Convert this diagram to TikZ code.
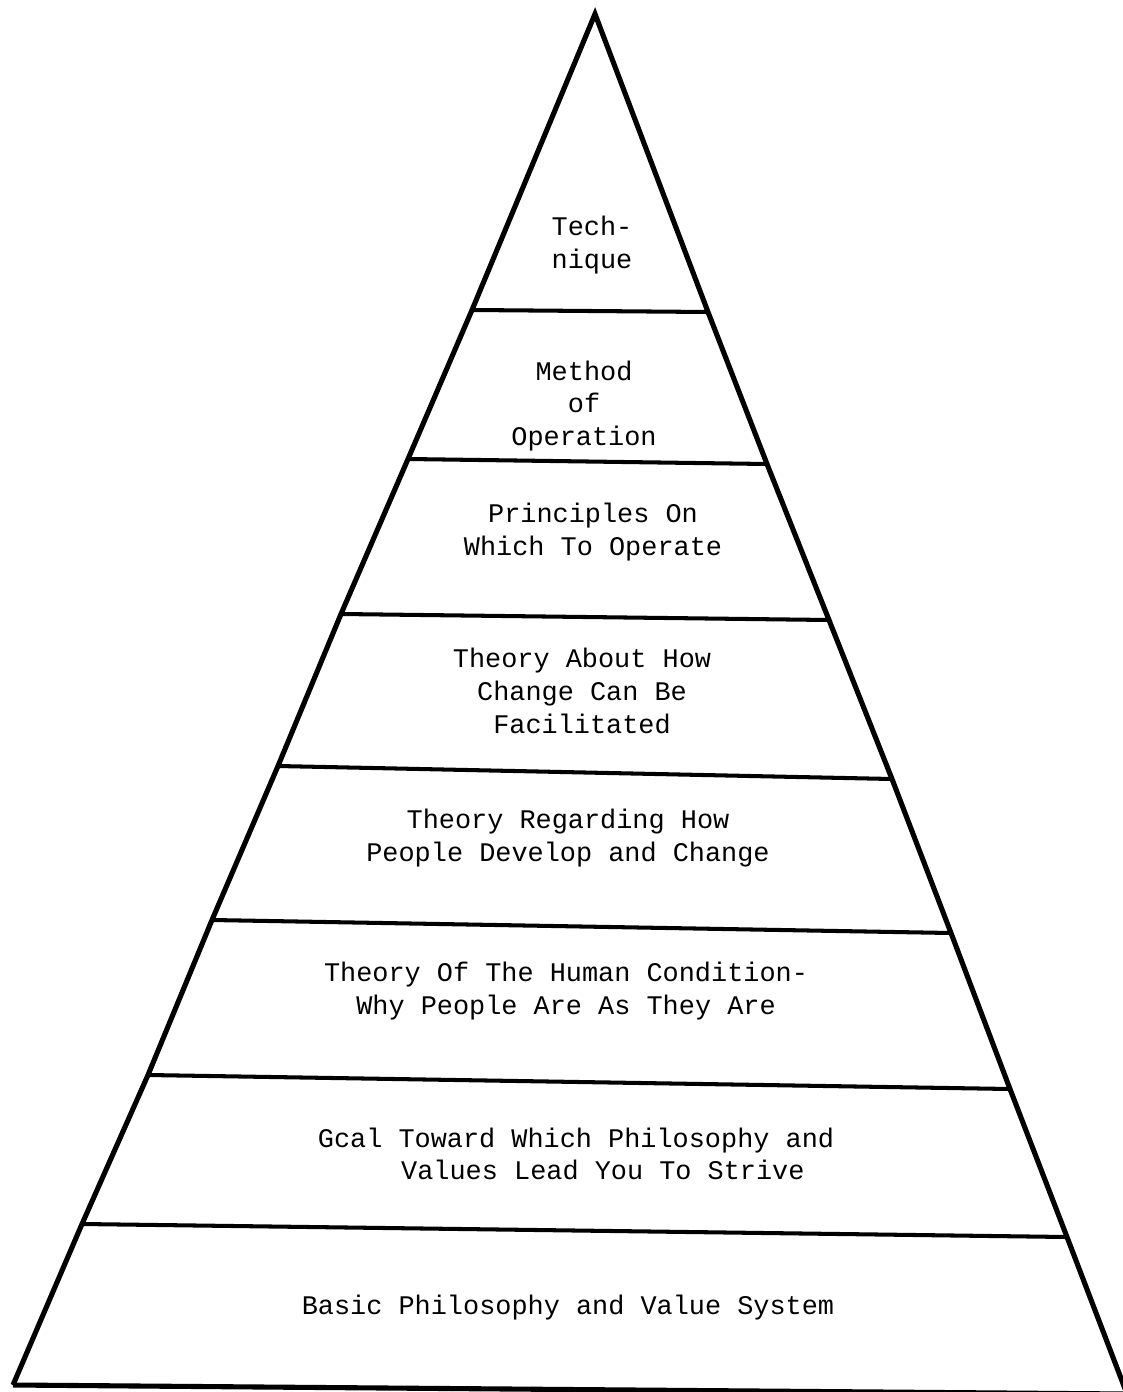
\documentclass[tikz,border=0pt]{standalone}
\usepackage{fontspec}
\newfontfamily\typewr{Liberation Mono}
\tikzset{
  layertext/.style={align=center, font=\typewr\fontsize{15.3}{18.6}\selectfont, inner sep=0pt},
  side/.style={line width=2.9pt, line join=miter},
  divider/.style={line width=2.3pt}
}

\begin{document}
\begin{tikzpicture}[x=0.02cm, y=-0.02cm]
		%%%%% FRAME %%%%%
		\useasboundingbox (0, 0) rectangle (1122, 1392);
		
		\coordinate (apex) at (595, 14);
		\coordinate (bl) at (13, 1385);
		\coordinate (br) at (1127, 1394);
		
		% left ends of the layer lines
		\coordinate (l1) at (472, 310);
		\coordinate (l2) at (408, 459);
		\coordinate (l3) at (341, 614);
		\coordinate (l4) at (278, 766);
		\coordinate (l5) at (212, 920);
		\coordinate (l6) at (148, 1075);
		\coordinate (l7) at (82, 1224);
		
		% right ends of the layer lines
		\coordinate (r1) at (708, 312);
		\coordinate (r2) at (767, 464);
		\coordinate (r3) at (829, 620);
		\coordinate (r4) at (892, 779);
		\coordinate (r5) at (951, 933);
		\coordinate (r6) at (1010, 1089);
		\coordinate (r7) at (1067, 1237);
		
		\draw[side] (bl) -- (l7) -- (l6) -- (l5) -- (l4) -- (l3) -- (l2) -- (l1) -- (apex)
			-- (r1) -- (r2) -- (r3) -- (r4) -- (r5) -- (r6) -- (r7) -- (br);
		\draw[side] (bl) -- (br);
		
		%%%%% LAYERS %%%%%
		\draw[divider] (l1) -- (r1);
		\draw[divider] (l2) -- (r2);
		\draw[divider] (l3) -- (r3);
		\draw[divider] (l4) -- (r4);
		\draw[divider] (l5) -- (r5);
		\draw[divider] (l6) -- (r6);
		\draw[divider] (l7) -- (r7);
		
		%%%%% TEXTS %%%%%
		\node[layertext] (tech) at (592, 245) {Tech-\\nique};
		\node[layertext] (method) at (584, 406) {Method\\of\\Operation};
		\node[layertext] (principles) at (593, 532) {Principles On\\Which To Operate};
		\node[layertext] (change) at (582, 691) {Theory About How\\Change Can Be\\Facilitated};
		\node[layertext] (develop) at (568, 838) {Theory Regarding How\\People Develop and Change};
		\node[layertext] (condition) at (566, 991) {Theory Of The Human Condition-\\Why People Are As They Are};
		\node[layertext, align=left] (goal) at (576, 1154) {Gcal Toward Which Philosophy and\\\hspace*{3.1em}Values Lead You To Strive};
		\node[layertext] (basic) at (568, 1308) {Basic Philosophy and Value System};
		
		%%%%% END %%%%%
	\end{tikzpicture}
\end{document}
